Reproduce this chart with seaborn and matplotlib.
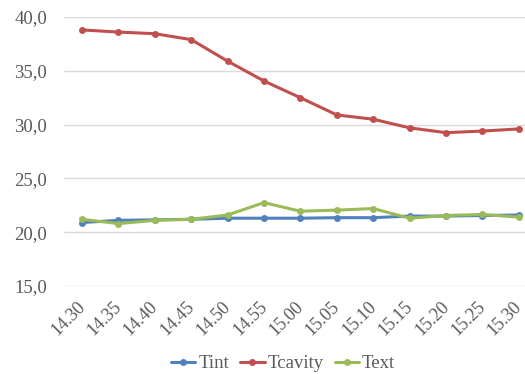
import pandas as pd
import matplotlib.pyplot as plt
import matplotlib.transforms as mtransforms
import seaborn as sns

# Data
times = ["14.30", "14.35", "14.40", "14.45", "14.50", "14.55", "15.00",
         "15.05", "15.10", "15.15", "15.20", "15.25", "15.30"]
tint = [20.9, 21.1, 21.15, 21.2, 21.3, 21.3, 21.3, 21.35, 21.35, 21.5, 21.5, 21.55, 21.6]
tcavity = [38.8, 38.6, 38.45, 37.9, 35.9, 34.05, 32.5, 30.9, 30.5, 29.7, 29.25, 29.4, 29.6]
text = [21.2, 20.8, 21.1, 21.2, 21.6, 22.75, 21.95, 22.05, 22.2, 21.3, 21.55, 21.65, 21.4]
y_ticks = [15, 20, 25, 30, 35, 40]
y_labels = ["15,0", "20,0", "25,0", "30,0", "35,0", "40,0"]

series = {"Tint": tint, "Tcavity": tcavity, "Text": text}
colors = {"Tint": "#4F81BD", "Tcavity": "#C0504D", "Text": "#9BBB59"}

sns.set_theme(style="white")
plt.rcParams['font.family'] = ['Liberation Serif', 'DejaVu Serif']

fig = plt.figure(figsize=(5.25, 3.74), dpi=100)
ax = fig.add_axes([63.8 / 525, 0.2353, (537 - 63.8) / 525, 0.7192])

for name, vals in series.items():
    df = pd.DataFrame({"x": range(len(times)), "y": vals})
    sns.lineplot(data=df, x="x", y="y", ax=ax, color=colors[name], label=name,
                 linewidth=2.2, marker="o", markersize=5, markeredgewidth=0)

ax.set_xlim(-0.5, len(times) - 0.5)
ax.set_ylim(15, 40)
ax.set_yticks(y_ticks)
ax.set_yticklabels(y_labels)
ax.set_xticks(range(len(times)))
ax.set_xticklabels(times, rotation=45, ha="right", rotation_mode="anchor")
ax.tick_params(axis="both", colors="#595959", labelsize=13.5, length=0)
ax.tick_params(axis="x", pad=9, labelsize=13)
ax.tick_params(axis="y", pad=12)
ax.yaxis.grid(True, color="#D9D9D9", linewidth=1)
ax.set_xlabel("")
ax.set_ylabel("")
sns.despine(ax=ax, left=True, bottom=True)

# nudge rotated labels a little left so the last one stays inside the image
shift = mtransforms.ScaledTranslation(-4 / 72, 0, fig.dpi_scale_trans)
for lbl in ax.get_xticklabels():
    lbl.set_transform(lbl.get_transform() + shift)

ax.legend(loc="lower center", bbox_to_anchor=(283 / 525, -0.015),
          bbox_transform=fig.transFigure, ncol=3, frameon=False,
          fontsize=13.5, handlelength=1.3, columnspacing=0.6, handletextpad=0.15,
          labelcolor="#595959", borderaxespad=0.0)

fig.savefig("out.png", dpi=100)
